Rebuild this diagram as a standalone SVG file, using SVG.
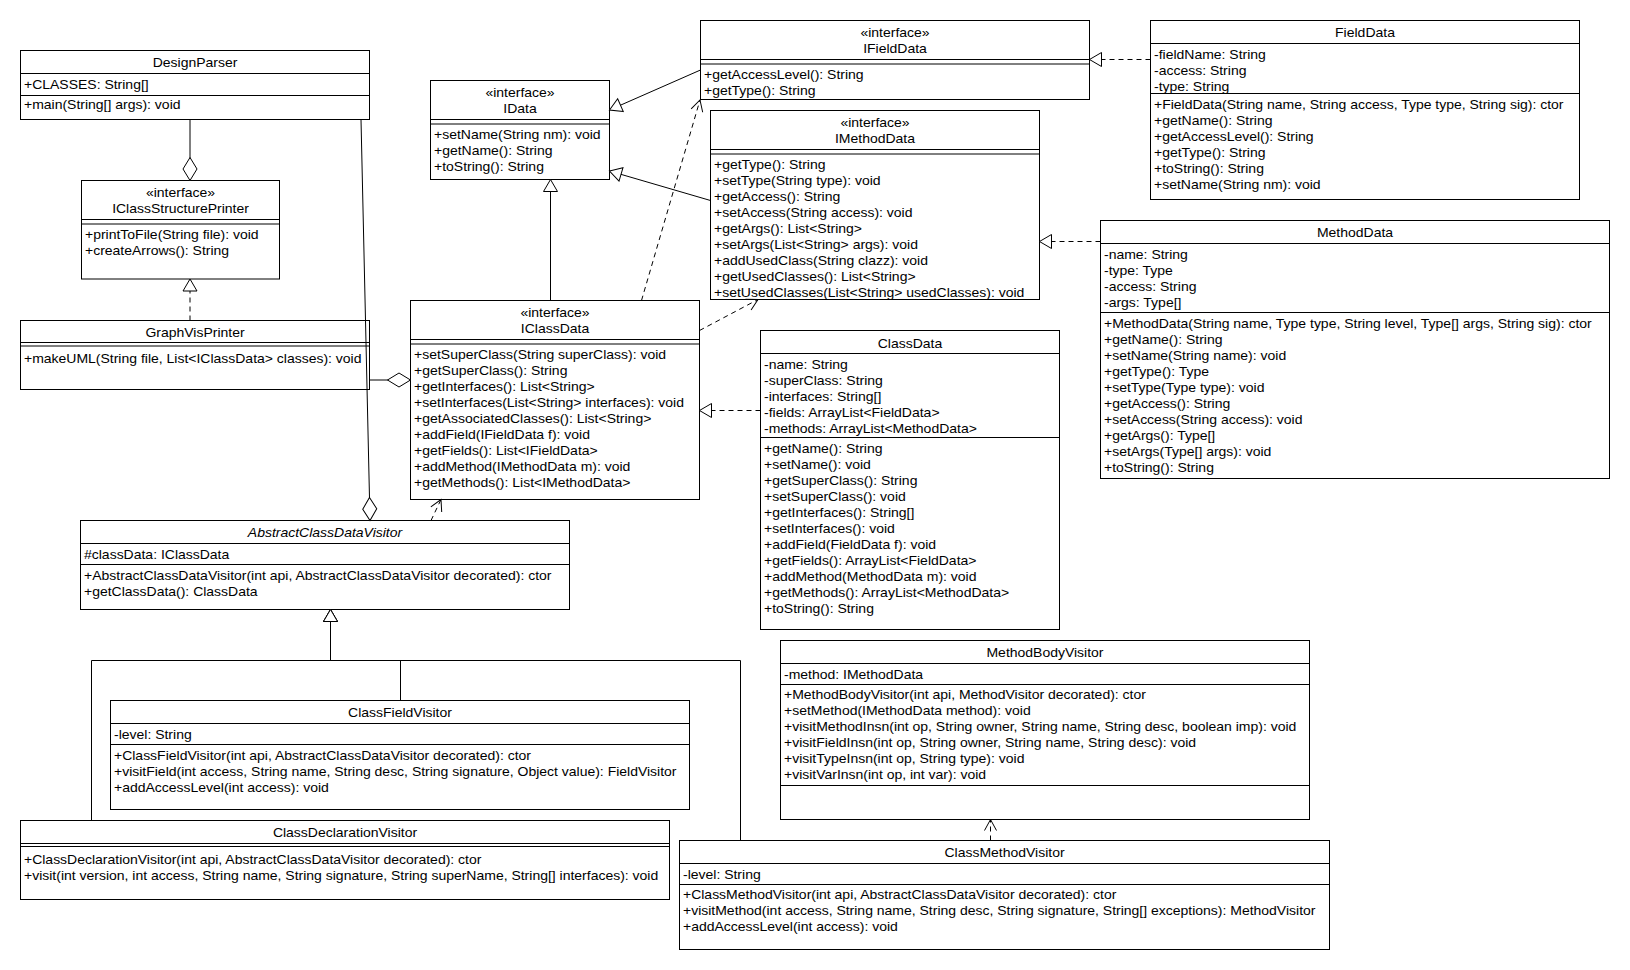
<svg xmlns="http://www.w3.org/2000/svg" width="1630" height="970" viewBox="0 0 1630 970">
<style>
.box{fill:#fff;stroke:#000;stroke-width:1}
.ln{fill:none;stroke:#000;stroke-width:1}
text{font-family:"Liberation Sans",Arial,sans-serif;font-size:12px;fill:#000}
.c{text-anchor:middle}
.it{font-style:italic}
.e{fill:none;stroke:#000;stroke-width:1}
.d{stroke-dasharray:5,4}
.mk{stroke:#000;stroke-width:1}
</style>
<defs>
<marker id="tri" viewBox="0 0 12 14" refX="12" refY="7" markerWidth="12" markerHeight="14" markerUnits="userSpaceOnUse" orient="auto" overflow="visible"><path class="mk" d="M0,0 L12,7 L0,14 Z" fill="#fff"/></marker>
<marker id="open" viewBox="0 0 11 12" refX="11" refY="6" markerWidth="11" markerHeight="12" markerUnits="userSpaceOnUse" orient="auto" overflow="visible"><path class="mk" d="M0,0 L11,6 L0,12" fill="none"/></marker>
<marker id="dia" viewBox="0 0 23 14" refX="23" refY="7" markerWidth="23" markerHeight="14" markerUnits="userSpaceOnUse" orient="auto" overflow="visible"><path class="mk" d="M0,7 L11.5,0 L23,7 L11.5,14 Z" fill="#fff"/></marker>
</defs>
<rect width="1630" height="970" fill="#fff"/>

<g id="DesignParser">
<rect class="box" x="20.5" y="50.5" width="349" height="69"/>
<path class="ln" d="M20.5,73.5H369.5M20.5,95.5H369.5"/>
<g transform="translate(195,0) scale(1.1667,1)"><text class="c" y="67">DesignParser</text></g>
<g transform="translate(24,0) scale(1.1667,1)"><text y="89">+CLASSES: String[]</text><text y="109.5">+main(String[] args): void</text></g>
</g>

<g id="IClassStructurePrinter">
<rect class="box" x="81.5" y="180.5" width="198" height="98.5"/>
<path class="ln" d="M81.5,219.5H279.5M81.5,224H279.5"/>
<g transform="translate(180.5,0) scale(1.1667,1)"><text class="c" y="197.5">«interface»</text><text class="c" y="213.5">IClassStructurePrinter</text></g>
<g transform="translate(85,0) scale(1.1667,1)"><text y="239.5">+printToFile(String file): void</text><text y="255.5">+createArrows(): String</text></g>
</g>

<g id="GraphVisPrinter">
<rect class="box" x="20.5" y="320.5" width="349" height="69"/>
<path class="ln" d="M20.5,342.5H369.5M20.5,346H369.5"/>
<g transform="translate(195,0) scale(1.1667,1)"><text class="c" y="337.5">GraphVisPrinter</text></g>
<g transform="translate(24,0) scale(1.1667,1)"><text y="363">+makeUML(String file, List&lt;IClassData&gt; classes): void</text></g>
</g>

<g id="IData">
<rect class="box" x="430.5" y="80.5" width="179" height="99"/>
<path class="ln" d="M430.5,119.5H609.5M430.5,124H609.5"/>
<g transform="translate(520,0) scale(1.1667,1)"><text class="c" y="97.5">«interface»</text><text class="c" y="113.5">IData</text></g>
<g transform="translate(434,0) scale(1.1667,1)"><text y="139.5">+setName(String nm): void</text><text y="155.5">+getName(): String</text><text y="171.5">+toString(): String</text></g>
</g>

<g id="IFieldData">
<rect class="box" x="700.5" y="20.5" width="389" height="79"/>
<path class="ln" d="M700.5,59.5H1089.5M700.5,64H1089.5"/>
<g transform="translate(895,0) scale(1.1667,1)"><text class="c" y="37.5">«interface»</text><text class="c" y="53.5">IFieldData</text></g>
<g transform="translate(704,0) scale(1.1667,1)"><text y="79.5">+getAccessLevel(): String</text><text y="95.5">+getType(): String</text></g>
</g>

<g id="IMethodData">
<rect class="box" x="710.5" y="110.5" width="329" height="189"/>
<path class="ln" d="M710.5,149.5H1039.5M710.5,154H1039.5"/>
<g transform="translate(875,0) scale(1.1667,1)"><text class="c" y="127.5">«interface»</text><text class="c" y="143.5">IMethodData</text></g>
<g transform="translate(714,0) scale(1.1667,1)">
<text y="169.5">+getType(): String</text>
<text y="185.5">+setType(String type): void</text>
<text y="201.5">+getAccess(): String</text>
<text y="217.5">+setAccess(String access): void</text>
<text y="233.5">+getArgs(): List&lt;String&gt;</text>
<text y="249.5">+setArgs(List&lt;String&gt; args): void</text>
<text y="265.5">+addUsedClass(String clazz): void</text>
<text y="281.5">+getUsedClasses(): List&lt;String&gt;</text>
<text y="297.5">+setUsedClasses(List&lt;String&gt; usedClasses): void</text>
</g>
</g>

<g id="IClassData">
<rect class="box" x="410.5" y="300.5" width="289" height="199"/>
<path class="ln" d="M410.5,339.5H699.5M410.5,344H699.5"/>
<g transform="translate(555,0) scale(1.1667,1)"><text class="c" y="317.5">«interface»</text><text class="c" y="333.5">IClassData</text></g>
<g transform="translate(414,0) scale(1.1667,1)">
<text y="359.5">+setSuperClass(String superClass): void</text>
<text y="375.5">+getSuperClass(): String</text>
<text y="391.5">+getInterfaces(): List&lt;String&gt;</text>
<text y="407.5">+setInterfaces(List&lt;String&gt; interfaces): void</text>
<text y="423.5">+getAssociatedClasses(): List&lt;String&gt;</text>
<text y="439.5">+addField(IFieldData f): void</text>
<text y="455.5">+getFields(): List&lt;IFieldData&gt;</text>
<text y="471.5">+addMethod(IMethodData m): void</text>
<text y="487.5">+getMethods(): List&lt;IMethodData&gt;</text>
</g>
</g>

<g id="ClassData">
<rect class="box" x="760.5" y="330.5" width="299" height="299"/>
<path class="ln" d="M760.5,353.5H1059.5M760.5,437.5H1059.5"/>
<g transform="translate(910,0) scale(1.1667,1)"><text class="c" y="348">ClassData</text></g>
<g transform="translate(764,0) scale(1.1667,1)">
<text y="369">-name: String</text>
<text y="385">-superClass: String</text>
<text y="401">-interfaces: String[]</text>
<text y="417">-fields: ArrayList&lt;FieldData&gt;</text>
<text y="433">-methods: ArrayList&lt;MethodData&gt;</text>
<text y="453">+getName(): String</text>
<text y="469">+setName(): void</text>
<text y="485">+getSuperClass(): String</text>
<text y="501">+setSuperClass(): void</text>
<text y="517">+getInterfaces(): String[]</text>
<text y="533">+setInterfaces(): void</text>
<text y="549">+addField(FieldData f): void</text>
<text y="565">+getFields(): ArrayList&lt;FieldData&gt;</text>
<text y="581">+addMethod(MethodData m): void</text>
<text y="597">+getMethods(): ArrayList&lt;MethodData&gt;</text>
<text y="613">+toString(): String</text>
</g>
</g>

<g id="FieldData">
<rect class="box" x="1150.5" y="20.5" width="429" height="179"/>
<path class="ln" d="M1150.5,43.5H1579.5M1150.5,93.5H1579.5"/>
<g transform="translate(1365,0) scale(1.1667,1)"><text class="c" y="37.5">FieldData</text></g>
<g transform="translate(1154,0) scale(1.1667,1)">
<text y="59">-fieldName: String</text>
<text y="75">-access: String</text>
<text y="91">-type: String</text>
<text y="109">+FieldData(String name, String access, Type type, String sig): ctor</text>
<text y="125">+getName(): String</text>
<text y="141">+getAccessLevel(): String</text>
<text y="157">+getType(): String</text>
<text y="173">+toString(): String</text>
<text y="189">+setName(String nm): void</text>
</g>
</g>

<g id="MethodData">
<rect class="box" x="1100.5" y="220.5" width="509" height="258"/>
<path class="ln" d="M1100.5,243.5H1609.5M1100.5,312.5H1609.5"/>
<g transform="translate(1355,0) scale(1.1667,1)"><text class="c" y="237.5">MethodData</text></g>
<g transform="translate(1104,0) scale(1.1667,1)">
<text y="259">-name: String</text>
<text y="275">-type: Type</text>
<text y="291">-access: String</text>
<text y="307">-args: Type[]</text>
<text y="328">+MethodData(String name, Type type, String level, Type[] args, String sig): ctor</text>
<text y="344">+getName(): String</text>
<text y="360">+setName(String name): void</text>
<text y="376">+getType(): Type</text>
<text y="392">+setType(Type type): void</text>
<text y="408">+getAccess(): String</text>
<text y="424">+setAccess(String access): void</text>
<text y="440">+getArgs(): Type[]</text>
<text y="456">+setArgs(Type[] args): void</text>
<text y="472">+toString(): String</text>
</g>
</g>

<g id="AbstractClassDataVisitor">
<rect class="box" x="80.5" y="520.5" width="489" height="89"/>
<path class="ln" d="M80.5,543.5H569.5M80.5,564.5H569.5"/>
<g transform="translate(325,0) scale(1.1667,1)"><text class="c it" y="537.5">AbstractClassDataVisitor</text></g>
<g transform="translate(84,0) scale(1.1667,1)">
<text y="559">#classData: IClassData</text>
<text y="580">+AbstractClassDataVisitor(int api, AbstractClassDataVisitor decorated): ctor</text>
<text y="596">+getClassData(): ClassData</text>
</g>
</g>

<g id="ClassFieldVisitor">
<rect class="box" x="110.5" y="700.5" width="579" height="109"/>
<path class="ln" d="M110.5,723.5H689.5M110.5,744.5H689.5"/>
<g transform="translate(400,0) scale(1.1667,1)"><text class="c" y="717.5">ClassFieldVisitor</text></g>
<g transform="translate(114,0) scale(1.1667,1)">
<text y="739.5">-level: String</text>
<text y="760">+ClassFieldVisitor(int api, AbstractClassDataVisitor decorated): ctor</text>
<text y="776">+visitField(int access, String name, String desc, String signature, Object value): FieldVisitor</text>
<text y="792">+addAccessLevel(int access): void</text>
</g>
</g>

<g id="ClassDeclarationVisitor">
<rect class="box" x="20.5" y="820.5" width="649" height="79"/>
<path class="ln" d="M20.5,843.5H669.5M20.5,846.5H669.5"/>
<g transform="translate(345,0) scale(1.1667,1)"><text class="c" y="837">ClassDeclarationVisitor</text></g>
<g transform="translate(24,0) scale(1.1667,1)">
<text y="864">+ClassDeclarationVisitor(int api, AbstractClassDataVisitor decorated): ctor</text>
<text y="880">+visit(int version, int access, String name, String signature, String superName, String[] interfaces): void</text>
</g>
</g>

<g id="MethodBodyVisitor">
<rect class="box" x="780.5" y="640.5" width="529" height="179"/>
<path class="ln" d="M780.5,663.5H1309.5M780.5,684.5H1309.5M780.5,785.5H1309.5"/>
<g transform="translate(1045,0) scale(1.1667,1)"><text class="c" y="657.5">MethodBodyVisitor</text></g>
<g transform="translate(784,0) scale(1.1667,1)">
<text y="679">-method: IMethodData</text>
<text y="699.5">+MethodBodyVisitor(int api, MethodVisitor decorated): ctor</text>
<text y="715.5">+setMethod(IMethodData method): void</text>
<text y="731.5">+visitMethodInsn(int op, String owner, String name, String desc, boolean imp): void</text>
<text y="747.5">+visitFieldInsn(int op, String owner, String name, String desc): void</text>
<text y="763.5">+visitTypeInsn(int op, String type): void</text>
<text y="779.5">+visitVarInsn(int op, int var): void</text>
</g>
</g>

<g id="ClassMethodVisitor">
<rect class="box" x="679.5" y="840.5" width="650" height="109"/>
<path class="ln" d="M679.5,863.5H1329.5M679.5,884.5H1329.5"/>
<g transform="translate(1004.5,0) scale(1.1667,1)"><text class="c" y="857.5">ClassMethodVisitor</text></g>
<g transform="translate(683,0) scale(1.1667,1)">
<text y="879">-level: String</text>
<text y="899.5">+ClassMethodVisitor(int api, AbstractClassDataVisitor decorated): ctor</text>
<text y="915.5">+visitMethod(int access, String name, String desc, String signature, String[] exceptions): MethodVisitor</text>
<text y="931.5">+addAccessLevel(int access): void</text>
</g>
</g>

<g id="connectors">
<path class="e" d="M190,119.5V180.5" marker-end="url(#dia)"/>
<path class="e" d="M361,119.5L370,520.5" marker-end="url(#dia)"/>
<path class="e" d="M369.5,380H410.5" marker-end="url(#dia)"/>
<path class="e d" d="M190,320.5V279" marker-end="url(#tri)"/>
<path class="e d" d="M1150.5,59.5H1089.5" marker-end="url(#tri)"/>
<path class="e d" d="M1100.5,241.5H1039.5" marker-end="url(#tri)"/>
<path class="e d" d="M760.5,410.5H699.5" marker-end="url(#tri)"/>
<path class="e" d="M700.5,70L609.5,110" marker-end="url(#tri)"/>
<path class="e" d="M710.5,200.5L609.5,171" marker-end="url(#tri)"/>
<path class="e" d="M550.5,300.5V179.5" marker-end="url(#tri)"/>
<path class="e" d="M91.5,820.5V660.5H330.5V609.5" marker-end="url(#tri)"/>
<path class="e" d="M400.5,700.5V660.5H330.5V609.5" marker-end="url(#tri)"/>
<path class="e" d="M740.5,840.5V660.5H330.5V609.5" marker-end="url(#tri)"/>
<path class="e d" d="M641.5,300.5L700,100" marker-end="url(#open)"/>
<path class="e d" d="M699.5,330.5L758,299.5" marker-end="url(#open)"/>
<path class="e d" d="M431,520.5L441,499.5" marker-end="url(#open)"/>
<path class="e d" d="M990.5,840.5V819.5" marker-end="url(#open)"/>
</g>
</svg>
